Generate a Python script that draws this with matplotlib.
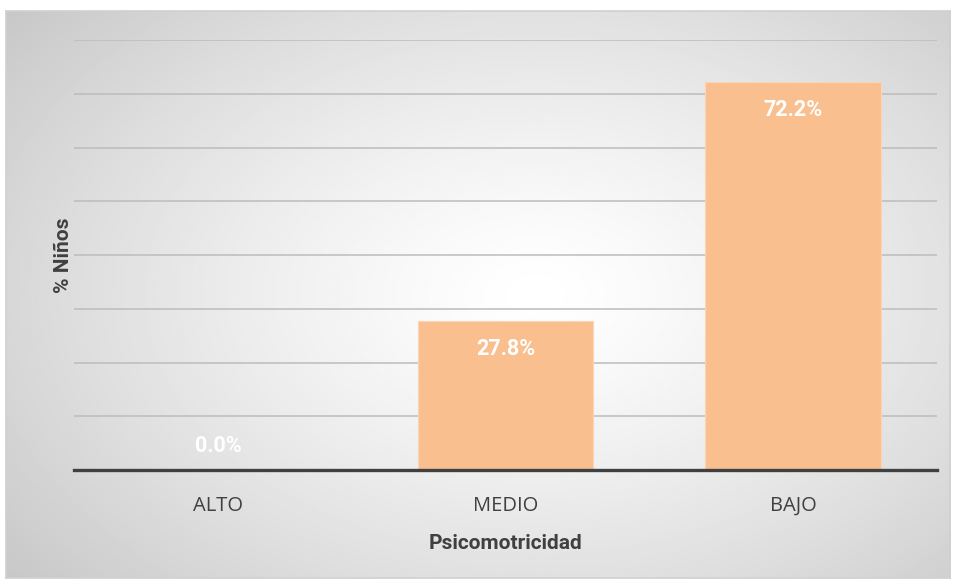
import numpy as np
import matplotlib.pyplot as plt

categorias = ["ALTO", "MEDIO", "BAJO"]
porcentajes = [0.0, 27.8, 72.2]
etiquetas = ["0.0%", "27.8%", "72.2%"]

plt.rcParams['font.family'] = ['Open Sans', 'DejaVu Sans']
negrita = ['Roboto', 'DejaVu Sans']

fig = plt.figure(figsize=(9.55, 5.83), dpi=100)
fig.patch.set_facecolor('white')

# fondo con degradado radial
bg = fig.add_axes([6 / 955, 5 / 583, 944 / 955, 567 / 583])
ny, nx = 300, 500
yy, xx = np.mgrid[0:1:ny * 1j, 0:1:nx * 1j]
d = np.sqrt(((xx - 0.56) / 0.56) ** 2 + ((yy - 0.5) / 0.62) ** 2) / np.sqrt(2)
d = np.clip(d / 0.95, 0, 1)
v = 1 - 0.23 * d ** 1.3
bg.imshow(v, cmap='gray', vmin=0, vmax=1, aspect='auto', extent=[0, 1, 0, 1])
bg.set_xticks([])
bg.set_yticks([])
for s in bg.spines.values():
    s.set_color('#d0d0d0')
    s.set_linewidth(1.2)

ax = fig.add_axes([74 / 955, 113 / 583, 863 / 955, 430 / 583])
ax.patch.set_alpha(0)
x = np.arange(len(categorias))
ax.bar(x, porcentajes, width=0.61, color='#f9bf8f', edgecolor='#fbd5b5',
       linewidth=0.8, zorder=3)
ax.set_xlim(-0.5, 2.5)
ax.set_ylim(0, 80)
ax.set_yticks(np.arange(10, 81, 10))
ax.yaxis.grid(True, color='#bcbcbc', linewidth=1.1, zorder=0)
ax.tick_params(axis='y', left=False, labelleft=False)
ax.tick_params(axis='x', bottom=False, pad=15, labelsize=14.5, colors='#404040')
ax.set_xticks(x)
ax.set_xticklabels(categorias)
for s in ['top', 'right', 'left']:
    ax.spines[s].set_visible(False)
ax.spines['bottom'].set_color('#404040')
ax.spines['bottom'].set_linewidth(2.4)
ax.spines['bottom'].set_zorder(4)

for xi, val, lab in zip(x, porcentajes, etiquetas):
    yl = max(val - 5.3, 4.4)
    ax.text(xi, yl, lab, ha='center', va='center', color='white',
            fontsize=15.5, fontweight='bold', family=negrita, zorder=5)

ax.set_xlabel("Psicomotricidad", fontsize=15, fontweight='bold',
              family=negrita, color='#404040', labelpad=13)
ax.set_ylabel("% Niños", fontsize=15, fontweight='bold', family=negrita,
              color='#404040', labelpad=1)

fig.savefig("out.png", dpi=100)
